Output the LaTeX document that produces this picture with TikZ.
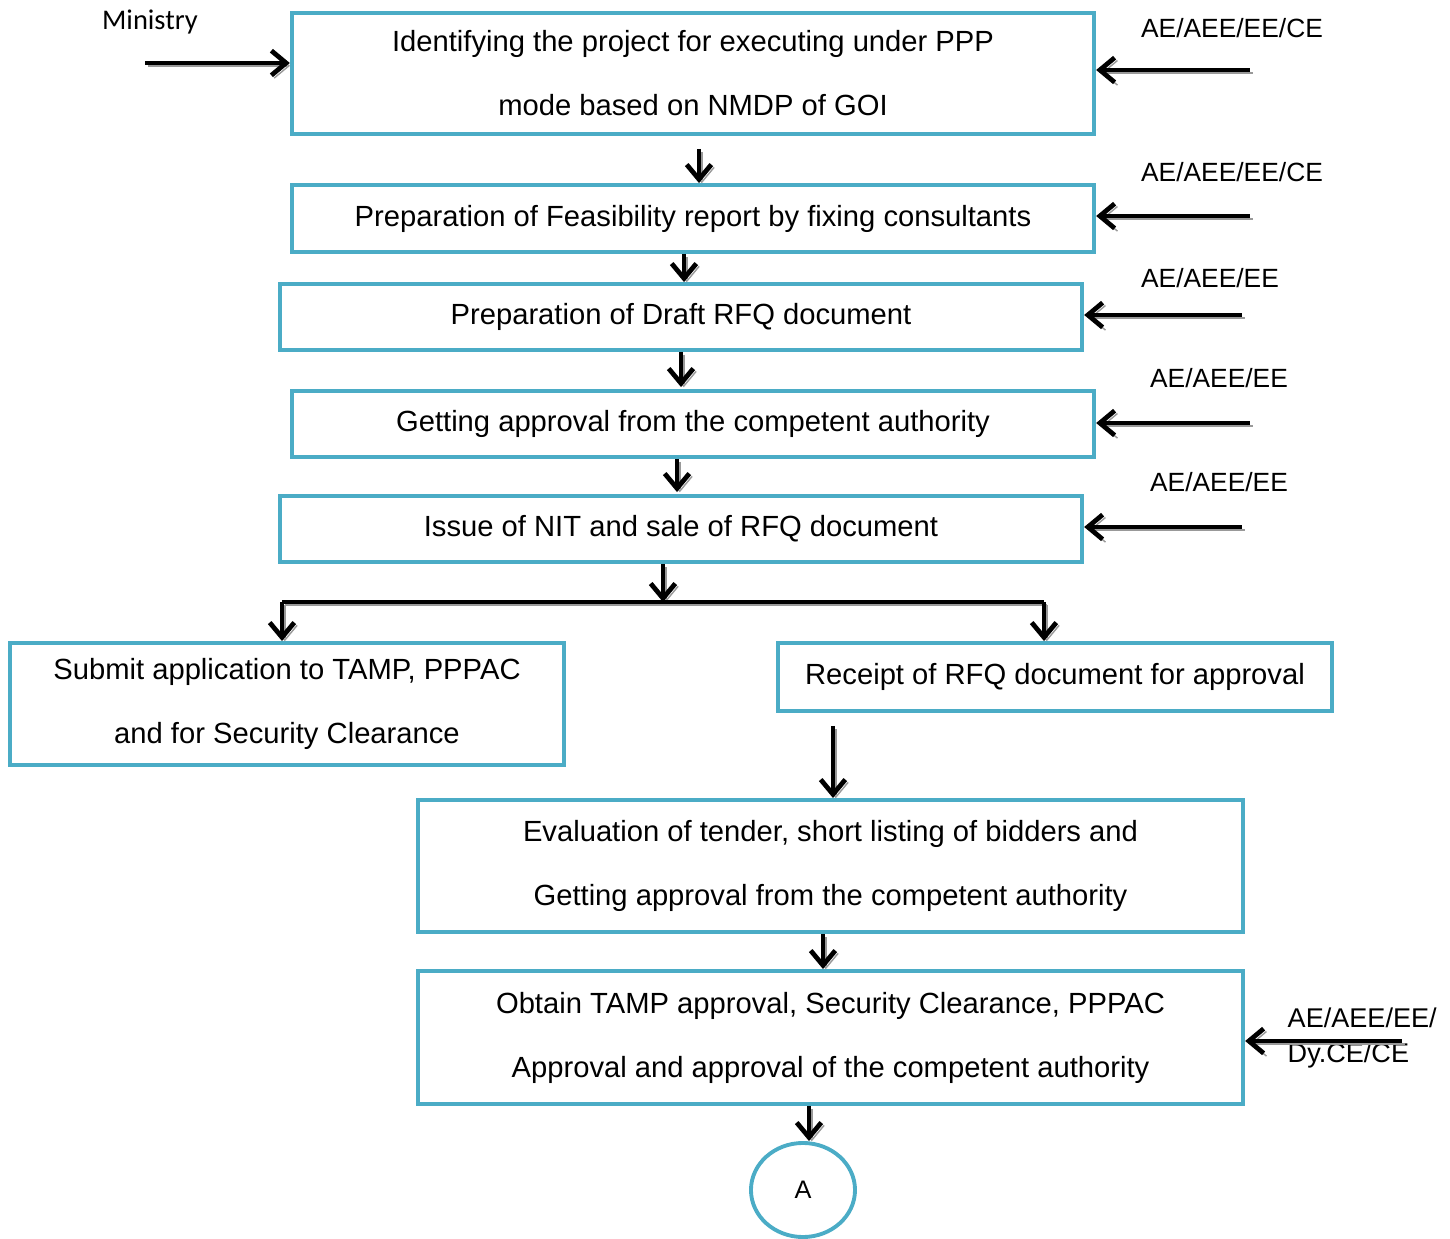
\documentclass[tikz,border=0pt]{standalone}
\usepackage{fontspec}
\setmainfont{Liberation Sans}
\newfontfamily\calibri{Carlito}
\usetikzlibrary{shapes.geometric, arrows.meta, positioning, calc}
\definecolor{boxblue}{RGB}{75, 172, 198}

\begin{document}
\begin{tikzpicture}[
    x=0.01cm, y=-0.01cm,
    block/.style={rectangle, draw=boxblue, line width=1.1pt, inner sep=0pt, align=center, font=\fontsize{8.3}{18.2}\selectfont},
    endcircle/.style={ellipse, draw=boxblue, line width=1.1pt, minimum width=1.04cm, minimum height=0.94cm, inner sep=0pt, font=\fontsize{7.2}{8}\selectfont},
    tag/.style={font=\fontsize{7.5}{10}\selectfont, inner sep=0pt},
    shadowed/.style={preaction={draw=black!40, transform canvas={xshift=0.8pt, yshift=-0.8pt}}},
    arrowline/.style={line width=1.35pt, shadowed},
    arrow/.style={line width=1.35pt, -{Straight Barb[length=4.2pt, width=7pt]}, shadowed}
]
    \useasboundingbox (0,0) rectangle (1450,1239);

    \node[block, minimum width=8.02cm, minimum height=1.21cm] (b1) at (693,73.5) {Identifying the project for executing under PPP\\mode based on NMDP of GOI};
    \node[block, minimum width=8.02cm, minimum height=0.67cm] (b2) at (693,218.5) {Preparation of Feasibility report by fixing consultants};
    \node[block, minimum width=8.02cm, minimum height=0.66cm] (b3) at (681,317) {Preparation of Draft RFQ document};
    \node[block, minimum width=8.02cm, minimum height=0.66cm] (b4) at (693,424) {Getting approval from the competent authority};
    \node[block, minimum width=8.02cm, minimum height=0.66cm] (b5) at (681,529) {Issue of NIT and sale of RFQ document};
    \node[block, minimum width=5.54cm, minimum height=1.22cm] (b6) at (287,704) {Submit application to TAMP, PPPAC\\and for Security Clearance};
    \node[block, minimum width=5.54cm, minimum height=0.68cm] (b7) at (1055,677) {Receipt of RFQ document for approval};
    \node[block, minimum width=8.25cm, minimum height=1.32cm] (b8) at (830.5,866) {Evaluation of tender, short listing of bidders and\\Getting approval from the competent authority};
    \node[block, minimum width=8.25cm, minimum height=1.33cm] (b9) at (830.5,1037.5) {Obtain TAMP approval, Security Clearance, PPPAC\\Approval and approval of the competent authority};
    \node[endcircle] (a) at (803,1190) {A};

    \node[tag, font=\calibri\fontsize{8.1}{10}\selectfont] (tmin) at (150,22) {Ministry};
    \node[tag] (t1) at (1232,28) {AE/AEE/EE/CE};
    \node[tag] (t2) at (1232,172) {AE/AEE/EE/CE};
    \node[tag] (t3) at (1210,278) {AE/AEE/EE};
    \node[tag] (t4) at (1219,378) {AE/AEE/EE};
    \node[tag] (t5) at (1219,482) {AE/AEE/EE};
    \node[tag, anchor=west, align=left, font=\fontsize{7.7}{10}\selectfont] (t6) at (1287,1038) {AE/AEE/EE/\\Dy.CE/CE};

    \coordinate (smin) at (145,63);
    \coordinate (s1) at (1250,70);
    \coordinate (s2) at (1250,216);
    \coordinate (s3) at (1242,315);
    \coordinate (s4) at (1250,423);
    \coordinate (s5) at (1242,527);
    \coordinate (s6) at (1402,1041);
    \coordinate (split) at (663,602);
    \coordinate (barL) at (282,602);
    \coordinate (barR) at (1044,602);

    \draw[arrow] (smin) -- (smin -| b1.west);
    \draw[arrow] (s1) -- (s1 -| b1.east);
    \draw[arrow] (s2) -- (s2 -| b2.east);
    \draw[arrow] (s3) -- (s3 -| b3.east);
    \draw[arrow] (s4) -- (s4 -| b4.east);
    \draw[arrow] (s5) -- (s5 -| b5.east);
    \draw[arrow] (s6) -- (s6 -| b9.east);

    \draw[arrow] ($(b1.south)+(6,13)$) -- ($(b2.north)+(6,0)$);
    \draw[arrow] ($(b2.south)+(-9,0)$) -- ($(b3.north)+(3,0)$);
    \draw[arrow] ($(b3.south)+(0,0)$) -- ($(b4.north)+(-12,-2)$);
    \draw[arrow] ($(b4.south)+(-16,0)$) -- ($(b5.north)+(-4,-2)$);
    \draw[arrow] ($(b5.south)+(-18,0)$) -- (split);
    \draw[arrowline] (barL) -- (barR);
    \draw[arrow] (barL) -- ($(b6.north)+(-5,0)$);
    \draw[arrow] (barR) -- ($(b7.north)+(-11,0)$);
    \draw[arrow] ($(b7.south)+(-222,13)$) -- ($(b8.north)+(2.5,0)$);
    \draw[arrow] ($(b8.south)+(-7.5,0)$) -- ($(b9.north)+(-7.5,0)$);
    \draw[arrow] ($(b9.south)+(-21.5,0)$) -- ($(a.north)+(6,0)$);

\end{tikzpicture}
\end{document}
